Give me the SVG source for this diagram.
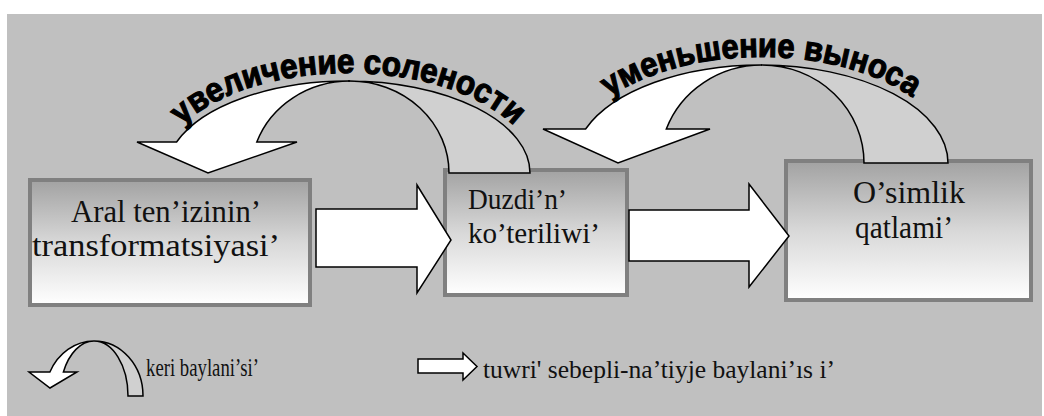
<svg xmlns="http://www.w3.org/2000/svg" width="1044" height="416" viewBox="0 0 1044 416">
<defs>
<linearGradient id="boxGrad" x1="0" y1="0" x2="0" y2="1">
<stop offset="0" stop-color="#a2a2a2"/>
<stop offset="0.5" stop-color="#d8d8d8"/>
<stop offset="1" stop-color="#ffffff"/>
</linearGradient>
<path id="arc1" d="M160,173 A188,100 0 0,1 536,173"/>
<path id="arc2" d="M568,163 A193,106 0 0,1 954,163"/>
</defs>
<style>
.box{fill:url(#boxGrad);stroke:#808080;stroke-width:4}
.lbl{font-family:"Liberation Serif","Times New Roman",serif;fill:#111}
.shape{stroke:#000;stroke-width:1.5;stroke-linejoin:miter}
.front{fill:#fff}
.back{fill:#d0d0d0}
.arctext{font-family:"Liberation Sans",Arial,sans-serif;font-weight:bold;font-size:34px;fill:#000;stroke:#000;stroke-width:1.2}
</style>
<rect x="0" y="0" width="1044" height="416" fill="#fff"/>
<rect x="7" y="14" width="1035" height="402" fill="#c0c0c0"/>

<g id="node-aral">
<rect class="box" x="30" y="180" width="280" height="125"/>
<text class="lbl" font-size="31" x="71" y="222" textLength="190" lengthAdjust="spacingAndGlyphs">Aral ten’izinin’</text>
<text class="lbl" font-size="31" x="32" y="256" textLength="248" lengthAdjust="spacingAndGlyphs">transformatsiyasi’</text>
</g>

<g id="node-duz">
<rect class="box" x="445" y="170" width="182" height="125"/>
<text class="lbl" font-size="29" x="468" y="209" textLength="99" lengthAdjust="spacingAndGlyphs">Duzdi’n’</text>
<text class="lbl" font-size="29" x="468" y="243" textLength="132" lengthAdjust="spacingAndGlyphs">ko’teriliwi’</text>
</g>

<g id="node-osimlik">
<rect class="box" x="786" y="161" width="245" height="139"/>
<text class="lbl" font-size="31" x="853" y="203" textLength="112" lengthAdjust="spacingAndGlyphs">O’simlik</text>
<text class="lbl" font-size="31" x="855" y="238" textLength="98" lengthAdjust="spacingAndGlyphs">qatlami’</text>
</g>

<g id="connectors">
<path class="shape front" d="M316,209 H417 V185 L451,240 L417,293 V267 H316 Z"/>
<path class="shape front" d="M629,210 H749 V184 L789,236 L749,287 V261 H629 Z"/>

<g id="feedback-1">
<path class="shape back" d="M348,81 A182,92 0 0,1 530,173 L449,173 A99,92 0 0,0 350,81 Z"/>
<path class="shape front" d="M176.6,142 L137,142 L208,173 L297,142 L256.8,142 A99,92 0 0,1 350,81 L348,81 A182,92 0 0,0 176.6,142 Z"/>
<text class="arctext"><textPath href="#arc1" startOffset="50%" text-anchor="middle" textLength="356" lengthAdjust="spacingAndGlyphs">увеличение солености</textPath></text>
</g>

<g id="feedback-2">
<path class="shape back" d="M761,65 A187,98 0 0,1 948,163 L864,163 A102,98 0 0,0 762,65 Z"/>
<path class="shape front" d="M585.6,129 L543,129 L618,163 L710,129 L666.3,129 A102,98 0 0,1 762,65 L761,65 A187,98 0 0,0 585.6,129 Z"/>
<text class="arctext"><textPath href="#arc2" startOffset="50%" text-anchor="middle" textLength="318" lengthAdjust="spacingAndGlyphs">уменьшение выноса</textPath></text>
</g>
</g>

<g id="legend">
<path class="shape back" d="M94,341 A49,55 0 0,1 143,396 L128,396 A34,55 0 0,0 94,341 Z"/>
<path class="shape front" d="M49.9,372 L29,372 L50,388 L77,372 L63.4,372 A34,55 0 0,1 94,341 A49,55 0 0,0 49.9,372 Z"/>
<text class="lbl" font-size="26" x="146" y="376" textLength="113" lengthAdjust="spacingAndGlyphs">keri baylani’si’</text>
<path class="shape front" d="M418,359 H463 V353 L477,366.5 L463,380 V373 H418 Z"/>
<text class="lbl" font-size="26" x="483" y="378" textLength="352" lengthAdjust="spacingAndGlyphs">tuwri' sebepli-na’tiyje baylani’ıs i’</text>
</g>
</svg>
